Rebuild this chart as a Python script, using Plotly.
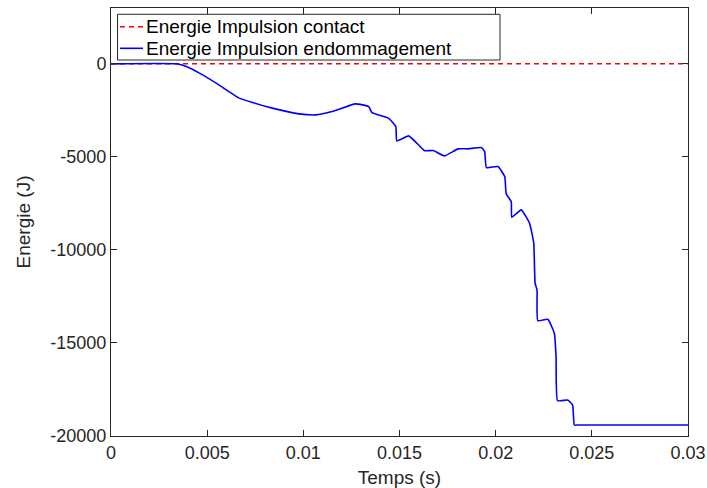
import plotly.graph_objects as go

# Time (s) and energy (J)
temps = [0.0, 0.0034, 0.00392, 0.0046, 0.00547, 0.00667, 0.00736, 0.00839, 0.00978,
         0.01064, 0.0115, 0.01271, 0.0134, 0.01357, 0.01443, 0.01481, 0.01486,
         0.01547, 0.0159, 0.01629, 0.01676, 0.01733, 0.01805, 0.01857, 0.01926,
         0.01943, 0.01952, 0.02012, 0.02047, 0.02055, 0.02081, 0.02084, 0.02133,
         0.02176, 0.02198, 0.02205, 0.02215, 0.02219, 0.02271, 0.02305, 0.02314,
         0.02322, 0.02374, 0.024, 0.02409, 0.0243, 0.03]
energie_endo = [0, 0, -144, -500, -1038, -1844, -2081, -2382, -2688,
                -2742, -2565, -2151, -2296, -2618, -2919, -3371, -4140,
                -3871, -4263, -4661, -4661, -4946, -4570, -4570, -4500,
                -4715, -5575, -5521, -6059, -6989, -7403, -8242, -7849,
                -8565, -9640, -11790, -12151, -13801, -13726, -14478, -15737,
                -18102, -18065, -18333, -19409, -19409, -19409]

temps_contact = [0.0, 0.03]
energie_contact = [0, 0]

legend_labels = ["Energie Impulsion contact", "Energie Impulsion endommagement"]

xtick_vals = [0, 0.005, 0.01, 0.015, 0.02, 0.025, 0.03]
xtick_text = ["0", "0.005", "0.01", "0.015", "0.02", "0.025", "0.03"]
ytick_vals = [0, -5000, -10000, -15000, -20000]
ytick_text = ["0", "-5000", "-10000", "-15000", "-20000"]

FONT = "Liberation Sans, Arial, sans-serif"
AXC = "#262626"
RED = "#ff0000"
BLUE = "#0000ff"

fig = go.Figure()
fig.add_trace(go.Scatter(x=temps_contact, y=energie_contact, mode="lines",
                         name=legend_labels[0], showlegend=False,
                         line=dict(color=RED, width=1.5, dash="5px,4px")))
fig.add_trace(go.Scatter(x=temps, y=energie_endo, mode="lines",
                         name=legend_labels[1], showlegend=False,
                         line=dict(color=BLUE, width=1.6, shape="spline", smoothing=0.4)))

axis_common = dict(showline=True, mirror="ticks", linecolor=AXC, linewidth=1,
                   ticks="inside", ticklen=6, tickcolor=AXC, showgrid=False,
                   zeroline=False, tickfont=dict(family=FONT, size=18, color=AXC))

# Legend box (MATLAB style), built in paper coordinates (plot width 577 px)
box_x0, box_x1, box_y0, box_y1 = 0.0113, 0.6742, 0.8785, 0.9853
row_y = [0.9563, 0.9058]
sample_x0, sample_x1, text_x = 0.0156, 0.0555, 0.0578

shapes = [dict(type="rect", xref="paper", yref="paper", x0=box_x0, x1=box_x1,
               y0=box_y0, y1=box_y1, line=dict(color=AXC, width=1), fillcolor="white",
               layer="above")]
shapes.append(dict(type="line", xref="paper", yref="paper", x0=sample_x0, x1=sample_x1,
                   y0=row_y[0], y1=row_y[0], line=dict(color=RED, width=1.5, dash="5px,4px"),
                   layer="above"))
shapes.append(dict(type="line", xref="paper", yref="paper", x0=sample_x0, x1=sample_x1,
                   y0=row_y[1], y1=row_y[1], line=dict(color=BLUE, width=1.6), layer="above"))

annotations = [dict(text=lab, xref="paper", yref="paper", x=text_x, y=yy,
                    xanchor="left", yanchor="middle", showarrow=False,
                    font=dict(family=FONT, size=19, color="black"))
               for lab, yy in zip(legend_labels, row_y)]

fig.update_layout(
    width=707, height=488,
    margin=dict(l=111, r=19, t=8, b=52, autoexpand=False),
    paper_bgcolor="white", plot_bgcolor="white",
    font=dict(family=FONT, color=AXC),
    xaxis=dict(range=[0, 0.0300001], tickvals=xtick_vals, ticktext=xtick_text,
               ticklabeloverflow="allow",
               title=dict(text="Temps (s)", font=dict(family=FONT, size=19, color=AXC), standoff=9),
               automargin=False, **axis_common),
    yaxis=dict(range=[-20000, 3000], tickvals=ytick_vals, ticktext=ytick_text,
               title=dict(text="Energie (J)", font=dict(family=FONT, size=19, color=AXC), standoff=14),
               automargin=False, **axis_common),
    shapes=shapes,
    annotations=annotations,
    showlegend=False,
)

fig.write_html("out.html", config={"displayModeBar": False},
               post_script="document.body.style.margin='0px';")
